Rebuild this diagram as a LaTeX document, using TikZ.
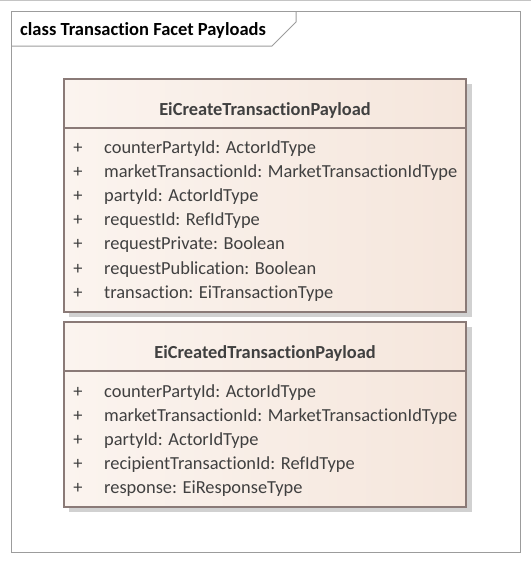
\documentclass[tikz,border=0pt]{standalone}
\usepackage{fontspec}
\setmainfont{Carlito}[Ligatures=NoCommon]
\pgfdeclarelayer{background}
\pgfdeclarelayer{foreground}
\pgfsetlayers{background,main,foreground}
\definecolor{classline}{HTML}{8A7A77}
\definecolor{classfillA}{HTML}{FBF4EF}
\definecolor{classfillB}{HTML}{F5E6DC}
\definecolor{textgray}{HTML}{404040}
\definecolor{framegray}{HTML}{9C9C9C}
\tikzset{
  classbox/.style={draw=classline, line width=1.3pt, left color=classfillA, right color=classfillB},
  shadowbox/.style={fill=black!18, draw=none},
  attr/.style={anchor=base west, inner sep=0pt, text=textgray, font=\fontsize{18.4}{22}\selectfont},
  vis/.style={anchor=base, inner sep=0pt, text=textgray, font=\fontsize{18.4}{22}\selectfont},
  classname/.style={anchor=base, inner sep=0pt, text=textgray, font=\fontsize{18.4}{22}\selectfont\bfseries}
}

\begin{document}
\begin{tikzpicture}[x=1pt,y=-1pt]
\useasboundingbox (0,0) rectangle (531,563);
\draw[framegray!60] (0,0.5) -- (531,0.5);
% frame
\draw[framegray, line width=1pt] (11,11) rectangle (520,552);
\draw[framegray, line width=1pt] (11,46) -- (272,46) -- (296,22) -- (296,11);
\node[anchor=base west, inner sep=0pt, font=\fontsize{18.5}{22}\selectfont\bfseries] (title) at (20,35) {class Transaction Facet Payloads};

% EiCreateTransactionPayload
\begin{pgfonlayer}{background}
\fill[shadowbox] (69,84) rectangle (472,317);
\end{pgfonlayer}
\draw[classbox] (64,79) rectangle (466,312);
\draw[classline, line width=1.3pt] (64,128) -- (466,128);
\node[classname] (create) at (265,115) {EiCreateTransactionPayload};
\foreach \t [count=\i] in {counterPartyId: ActorIdType,
  marketTransactionId: MarketTransactionIdType,
  partyId: ActorIdType,
  requestId: RefIdType,
  requestPrivate: Boolean,
  requestPublication: Boolean,
  transaction: EiTransactionType} {
  \node[vis] (createvis\i) at (78,153+24.2*\i-24.2) {+};
  \node[attr] (createattr\i) at (104,153+24.2*\i-24.2) {\t};
}

% EiCreatedTransactionPayload
\begin{pgfonlayer}{background}
\fill[shadowbox] (69,327) rectangle (472,512);
\end{pgfonlayer}
\draw[classbox] (64,322) rectangle (466,507);
\draw[classline, line width=1.3pt] (64,371) -- (466,371);
\node[classname] (created) at (265,358) {EiCreatedTransactionPayload};
\foreach \t [count=\i] in {counterPartyId: ActorIdType,
  marketTransactionId: MarketTransactionIdType,
  partyId: ActorIdType,
  recipientTransactionId: RefIdType,
  response: EiResponseType} {
  \node[vis] (createdvis\i) at (78,397+24.2*\i-24.2) {+};
  \node[attr] (createdattr\i) at (104,397+24.2*\i-24.2) {\t};
}
\end{tikzpicture}
\end{document}
